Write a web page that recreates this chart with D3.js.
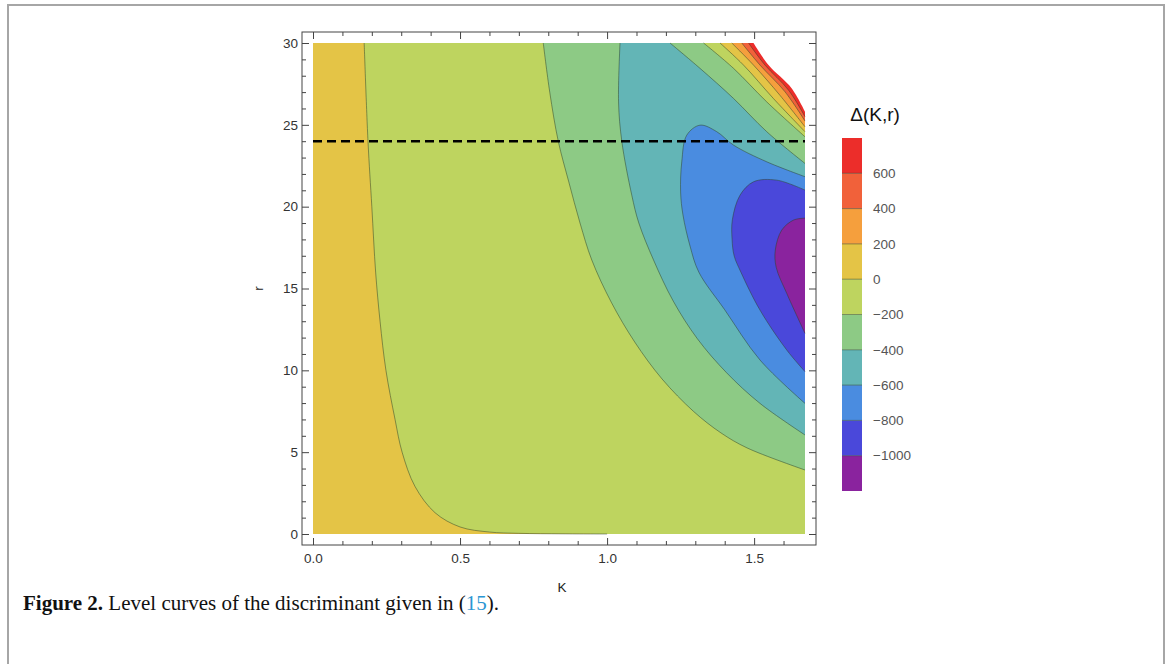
<!DOCTYPE html>
<html>
<head>
<meta charset="utf-8">
<script src="https://cdn.jsdelivr.net/npm/d3@7"></script>
<style>
  body { margin: 0; background: #fff; }
  svg { display: block; }
</style>
</head>
<body>
<svg id="chart" width="1170" height="664"></svg>
<script>
const KMAX = 1.673;
const RMAX = 30;

// band levels and colours, lowest to highest
const levels = [-1200, -1000, -800, -600, -400, -200, 0, 200, 400, 600, 800];
const bandColors = ['#8a239e', '#4a48da', '#4a8ce0', '#63b5b6', '#8dca85', '#bed45f', '#e4c446', '#f59f3d', '#f1613a', '#ec2d2a'];
const legendLabels = ['600', '400', '200', '0', '\u2212200', '\u2212400', '\u2212600', '\u2212800', '\u22121000'];
const legendValues = [600, 400, 200, 0, -200, -400, -600, -800, -1000];

const xMajor = [0, 0.5, 1.0, 1.5];
const xMinor = [0.1, 0.2, 0.3, 0.4, 0.6, 0.7, 0.8, 0.9, 1.1, 1.2, 1.3, 1.4, 1.6];
const yMajor = [0, 5, 10, 15, 20, 25, 30];
const yMinor = d3.range(0, 31).filter(v => v % 5 !== 0);
const dashedR = 24;

// level curves, [K, r]
const c0Left = [[0.174, 30], [0.187, 24], [0.200, 20], [0.213, 16], [0.228, 13], [0.248, 10],
  [0.279, 7], [0.303, 5], [0.347, 2.9], [0.415, 1.3], [0.5, 0.43], [0.6, 0.12], [0.7, 0.04], [0.85, 0.01], [1.0, 0]];
const cm200Low = [[0.783, 30], [0.805, 27], [0.834, 24], [0.870, 21.5], [0.908, 19], [0.948, 16.74],
  [1.014, 14.17], [1.094, 11.73], [1.187, 9.47], [1.294, 7.49], [1.387, 6.18], [1.476, 5.26], [1.673, 3.91]];
const cm200Up = [[1.328, 30], [1.43, 28.45], [1.543, 26.4], [1.673, 24.27]];
const cm400Low = [[1.044, 30], [1.039, 26.4], [1.050, 24.0], [1.084, 20.7], [1.108, 19.0], [1.158, 16.74],
  [1.225, 14.23], [1.307, 11.93], [1.406, 9.86], [1.520, 7.98], [1.673, 6.05]];
const cm400Up = [[1.214, 30], [1.316, 28.45], [1.430, 26.61], [1.543, 24.58], [1.673, 22.64]];
const cm600 = [[1.673, 21.83], [1.543, 22.74], [1.43, 23.76], [1.373, 24.58], [1.316, 24.98], [1.271, 24.37],
  [1.254, 22.74], [1.250, 20.9], [1.258, 19.5], [1.282, 17.6], [1.312, 16.0], [1.400, 13.7], [1.520, 10.63], [1.673, 7.98]];
const cm800 = [[1.673, 21.01], [1.577, 21.62], [1.498, 21.52], [1.452, 20.7], [1.426, 19.2], [1.425, 18.0],
  [1.432, 17.0], [1.455, 16.0], [1.520, 13.68], [1.611, 11.24], [1.673, 9.92]];
const cm1000 = [[1.673, 19.3], [1.634, 19.18], [1.594, 18.57], [1.572, 17.35], [1.575, 16.3], [1.611, 14.7], [1.673, 12.26]];
const c0Up = [[1.384, 30], [1.464, 28.65], [1.566, 26.6], [1.673, 24.58]];
const c200 = [[1.424, 30], [1.498, 28.65], [1.588, 26.8], [1.673, 24.88]];
const c400 = [[1.458, 30], [1.520, 28.65], [1.605, 27.02], [1.673, 25.23]];
const c600 = [[1.481, 30], [1.537, 28.65], [1.617, 27.12], [1.673, 25.5]];
const c800 = [[1.498, 30], [1.549, 28.65], [1.628, 27.22], [1.673, 25.8]];

const svg = d3.select('#chart');
const sans = '"Liberation Sans", Arial, sans-serif';

// outer figure frame
svg.append('rect')
  .attr('x', 8).attr('y', 5).attr('width', 1156).attr('height', 700)
  .attr('fill', 'none').attr('stroke', '#a6a6a6').attr('stroke-width', 2);

const x = d3.scaleLinear().domain([0, KMAX]).range([313, 805]);
const y = d3.scaleLinear().domain([0, RMAX]).range([534, 43]);
const pad = 11;
const frame = { left: x(0) - pad, right: x(KMAX) + pad, top: y(RMAX) - pad, bottom: y(0) + pad };

const smooth = d3.line().x(d => x(d[0])).y(d => y(d[1])).curve(d3.curveCatmullRom.alpha(0.5));
const pt = d => `L${x(d[0])},${y(d[1])}`;
const band = (lower, upper) => smooth(lower) + smooth(upper.slice().reverse()).replace(/^M/, 'L') + 'Z';

const plot = svg.append('g');
const fill = (d, color) => plot.append('path').attr('d', d).attr('fill', color);

// painter's order: base band, then sub- and super-level sets
fill(`M${x(0)},${y(0)}H${x(KMAX)}V${y(RMAX)}H${x(0)}Z`, bandColors[5]);
fill(smooth(c0Left) + pt([0, 0]) + pt([0, RMAX]) + 'Z', bandColors[6]);
fill(band(cm200Low, cm200Up), bandColors[4]);
fill(band(cm400Low, cm400Up), bandColors[3]);
fill(smooth(cm600) + 'Z', bandColors[2]);
fill(smooth(cm800) + 'Z', bandColors[1]);
fill(smooth(cm1000) + 'Z', bandColors[0]);
fill(smooth(c0Up) + pt([KMAX, RMAX]) + 'Z', bandColors[6]);
fill(smooth(c200) + pt([KMAX, RMAX]) + 'Z', bandColors[7]);
fill(smooth(c400) + pt([KMAX, RMAX]) + 'Z', bandColors[8]);
fill(smooth(c600) + pt([KMAX, RMAX]) + 'Z', bandColors[9]);
fill(smooth(c800) + pt([KMAX, RMAX]) + 'Z', '#fff');

[c0Left, cm200Low, cm200Up, cm400Low, cm400Up, cm600, cm800, cm1000, c0Up, c200, c400, c600].forEach(c =>
  plot.append('path')
    .attr('d', smooth(c))
    .attr('fill', 'none')
    .attr('stroke', 'rgba(45,65,40,0.5)')
    .attr('stroke-width', 1));

// dashed line r = 24
plot.append('line')
  .attr('x1', x(0)).attr('x2', x(KMAX))
  .attr('y1', y(dashedR)).attr('y2', y(dashedR))
  .attr('stroke', '#000').attr('stroke-width', 2.6)
  .attr('stroke-dasharray', '9,5');

// frame with inward ticks
svg.append('rect')
  .attr('x', frame.left).attr('y', frame.top)
  .attr('width', frame.right - frame.left).attr('height', frame.bottom - frame.top)
  .attr('fill', 'none').attr('stroke', '#444').attr('stroke-width', 1);

const drawAxis = (axisFn, scale, pos, major, minor, labels, padding) => {
  const g = svg.append('g').attr('transform', pos);
  g.call(axisFn(scale).tickValues(major).tickSizeInner(-7).tickSizeOuter(0).tickPadding(padding)
    .tickFormat(labels ? labels : ''));
  g.append('g').call(axisFn(scale).tickValues(minor).tickSizeInner(-4).tickSizeOuter(0).tickFormat(''));
  g.selectAll('.domain').remove();
  g.selectAll('line').attr('stroke', '#444');
  g.selectAll('text').attr('font-family', sans).attr('font-size', 13.5).attr('fill', '#333');
};

drawAxis(d3.axisBottom, x, `translate(0,${frame.bottom})`, xMajor, xMinor, d3.format('.1f'), 8);
drawAxis(d3.axisTop, x, `translate(0,${frame.top})`, xMajor, xMinor, null, 4);
drawAxis(d3.axisLeft, y, `translate(${frame.left},0)`, yMajor, yMinor, d3.format('d'), 4);
drawAxis(d3.axisRight, y, `translate(${frame.right},0)`, yMajor, yMinor, null, 4);

svg.append('text')
  .attr('x', (x(0) + x(KMAX)) / 2 + 3).attr('y', 592)
  .attr('text-anchor', 'middle')
  .attr('font-family', sans).attr('font-size', 13.5).attr('fill', '#222')
  .text('K');
svg.append('text')
  .attr('transform', `translate(263,${y(15)}) rotate(-90)`)
  .attr('text-anchor', 'middle')
  .attr('font-family', sans).attr('font-size', 13.5).attr('fill', '#222')
  .text('r');

// legend
const ly = d3.scaleLinear().domain([levels[0], levels[levels.length - 1]]).range([491, 138]);
const legend = svg.append('g');
legend.selectAll('rect')
  .data(bandColors)
  .join('rect')
    .attr('x', 842).attr('width', 20)
    .attr('y', (d, i) => ly(levels[i + 1]))
    .attr('height', (d, i) => ly(levels[i]) - ly(levels[i + 1]))
    .attr('fill', d => d);
legend.selectAll('line')
  .data(legendValues)
  .join('line')
    .attr('x1', 842).attr('x2', 862)
    .attr('y1', d => ly(d)).attr('y2', d => ly(d))
    .attr('stroke', 'rgba(45,65,40,0.5)');
legend.selectAll('text.lab')
  .data(legendValues)
  .join('text')
    .attr('class', 'lab')
    .attr('x', 873).attr('y', d => ly(d))
    .attr('dy', '0.35em')
    .attr('font-family', sans).attr('font-size', 13.5).attr('fill', '#555')
    .text((d, i) => legendLabels[i]);
legend.append('text')
  .attr('x', 875).attr('y', 121)
  .attr('text-anchor', 'middle')
  .attr('font-family', sans).attr('font-size', 19).attr('fill', '#111')
  .text('\u0394(K,r)');

// caption
const cap = svg.append('text')
  .attr('x', 23).attr('y', 610)
  .attr('font-family', '"Liberation Serif", "Times New Roman", serif')
  .attr('font-size', 21).attr('fill', '#111');
cap.append('tspan').attr('font-weight', 'bold').text('Figure 2.');
cap.append('tspan').text(' Level curves of the discriminant given in (');
cap.append('tspan').attr('fill', '#2a96d2').text('15');
cap.append('tspan').text(').');
</script>
</body>
</html>
